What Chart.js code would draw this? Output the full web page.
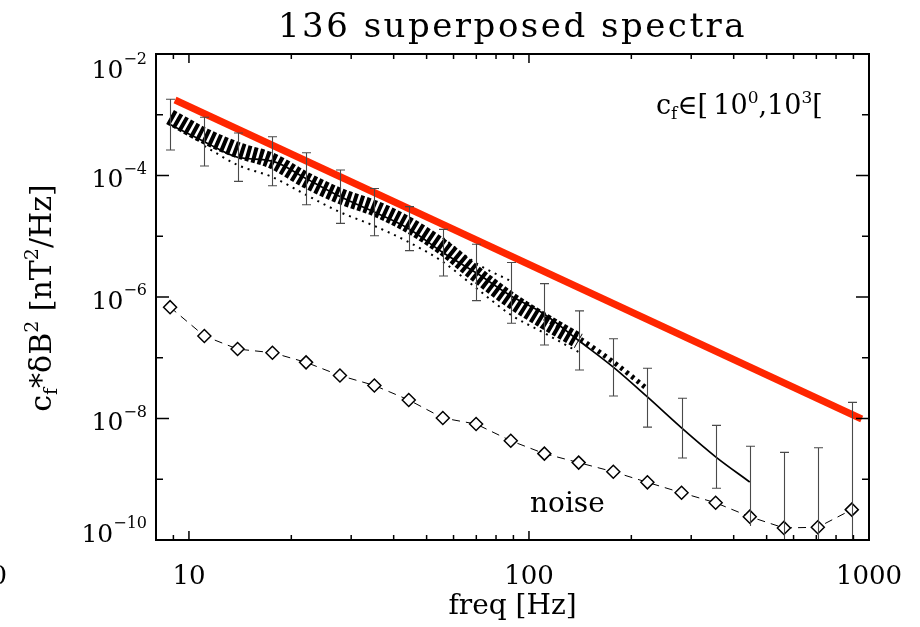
<!DOCTYPE html>
<html>
<head>
<meta charset="utf-8">
<script src="https://cdn.jsdelivr.net/npm/chart.js@4.4.0/dist/chart.umd.min.js"></script>
<style>
  html, body { margin: 0; background: #fff; }
  #wrap { width: 920px; height: 627px; }
</style>
</head>
<body>
<div id="wrap"><canvas id="spectra"></canvas></div>
<script>
// frequency bins (Hz) where error bars / noise diamonds sit
const freq = [8.8, 11.1, 13.9, 17.6, 22.1, 27.8, 35.1, 44.3, 55.8, 69.9, 88.4,
              111, 140, 177, 223, 281, 354, 446, 562, 707, 890];

// mean spectrum (solid line) and its spread
const spectrumMean = [6.9e-4, 3.6e-4, 2.0e-4, 1.72e-4, 8.9e-5, 4.5e-5, 2.5e-5, 1.33e-5, 5.4e-6, 2.5e-6, 1.05e-6,
                      5.2e-7, 1.92e-7, 7.0e-8, 2.26e-8, 7.0e-9, 2.34e-9, 9.0e-10, null, null, null];
const errHigh = [1.8e-3, 9.1e-4, 5.0e-4, 4.35e-4, 2.37e-4, 1.23e-4, 6.1e-5, 3.07e-5, 1.3e-5, 7.4e-6, 3.7e-6,
                 1.66e-6, 5.9e-7, 2.06e-7, 6.7e-8, 2.15e-8, 7.7e-9, 3.5e-9, 2.77e-9, 3.3e-9, 1.84e-8];
const errLow = [2.63e-4, 1.43e-4, 8.0e-5, 6.8e-5, 3.3e-5, 1.63e-5, 1.02e-5, 5.8e-6, 2.22e-6, 8.7e-7, 3.7e-7,
                1.62e-7, 6.3e-8, 2.34e-8, 7.2e-9, 2.24e-9, 7.1e-10, 1.7e-10, 1e-10, 1e-10, 1e-10];

// noise level (diamonds)
const noise = [6.8e-7, 2.28e-7, 1.39e-7, 1.21e-7, 8.4e-8, 5.1e-8, 3.5e-8, 2.02e-8, 1.02e-8, 8.1e-9, 4.3e-9,
               2.64e-9, 1.88e-9, 1.33e-9, 8.9e-10, 6.0e-10, 4.1e-10, 2.42e-10, 1.58e-10, 1.62e-10, 3.16e-10];

// the superposed individual spectra (dense dotted band + stray dotted curves)
const bandCore = [9.2e-4, 4.5e-4, 2.63e-4, 1.73e-4, 8.4e-5, 4.6e-5, 2.9e-5, 1.53e-5, 6.6e-6, 2.39e-6, 8.9e-7,
                  4.0e-7, 1.89e-7, null, null, null, null, null, null, null, null];
const bandLower = [null, 3.06e-4, 1.49e-4, 9.4e-5, 4.8e-5, 2.5e-5, 1.48e-5, 8.0e-6, 3.8e-6, 1.41e-6, 5.1e-7,
                   2.55e-7, 1.24e-7, null, null, null, null, null, null, null, null];
const bandUpper = [null, null, null, null, null, null, null, null, 9.4e-6, 3.6e-6, 1.83e-6,
                   null, null, null, null, null, null, null, null, null, null];
const bandTail = [null, null, null, null, null, null, null, null, null, null, null,
                  4.5e-7, 2.11e-7, 8.5e-8, 3.06e-8, null, null, null, null, null, null];

// red power-law reference line
const fitFreq = [9.1, 952];
const fitValue = [1.75e-3, 9.8e-9];

// axis ticks
const xMajor = [10, 100, 1000];
const xMajorLabels = ['10', '100', '1000'];
const xMinor = [9, 20, 30, 40, 50, 60, 70, 80, 90, 200, 300, 400, 500, 600, 700, 800, 900];
const yLabelExp = [-2, -4, -6, -8, -10];
const yMinorExp = [-3, -5, -7, -9];

const serif = '"DejaVu Serif", serif';

function pts(values, xs = freq) {
  return xs.map((x, i) => ({ x: x, y: values[i] }));
}

// text pieces with their own sizes and vertical offsets (sub/superscripts)
function runWidth(ctx, runs) {
  let w = 0;
  runs.forEach(r => { ctx.font = r.size + 'px ' + serif; w += ctx.measureText(r.t).width; });
  return w;
}
function drawRuns(ctx, runs, x, y) {
  runs.forEach(r => {
    ctx.font = r.size + 'px ' + serif;
    ctx.fillText(r.t, x, y + (r.dy || 0));
    x += ctx.measureText(r.t).width;
  });
}

const idlAxes = {
  id: 'idlAxes',
  beforeDraw(chart) {
    // wider letter spacing for the title, like the original plot
    chart.ctx.letterSpacing = '2.5px';
  },
  beforeDatasetsDraw(chart) {
    chart.ctx.letterSpacing = '0px';
  },
  afterDatasetsDraw(chart) {
    const { ctx, scales: { x, y } } = chart;
    // error bars
    ctx.save();
    ctx.strokeStyle = '#4a4a4a';
    ctx.lineWidth = 1.1;
    freq.forEach((f, i) => {
      const px = Math.round(x.getPixelForValue(f)) + 0.5;
      const top = y.getPixelForValue(errHigh[i]);
      const bot = y.getPixelForValue(errLow[i]);
      ctx.beginPath();
      ctx.moveTo(px, top); ctx.lineTo(px, bot);
      ctx.moveTo(px - 4.5, top); ctx.lineTo(px + 4.5, top);
      if (errLow[i] > 2e-10) { ctx.moveTo(px - 4.5, bot); ctx.lineTo(px + 4.5, bot); }
      ctx.stroke();
    });
    ctx.restore();
  },
  afterDraw(chart) {
    const { ctx, chartArea: a, scales: { x, y } } = chart;
    ctx.save();
    ctx.letterSpacing = '0px';
    ctx.strokeStyle = '#000';
    ctx.fillStyle = '#000';

    // frame
    ctx.lineWidth = 2;
    ctx.strokeRect(a.left, a.top, a.right - a.left, a.bottom - a.top);

    // ticks, pointing inward on all four sides
    ctx.lineWidth = 1.5;
    ctx.beginPath();
    const xt = (v, len) => {
      const px = x.getPixelForValue(v);
      ctx.moveTo(px, a.bottom); ctx.lineTo(px, a.bottom - len);
      ctx.moveTo(px, a.top); ctx.lineTo(px, a.top + len);
    };
    xMajor.forEach(v => xt(v, 9));
    xMinor.forEach(v => xt(v, 5));
    const yt = (e, len) => {
      const py = y.getPixelForValue(Math.pow(10, e));
      ctx.moveTo(a.left, py); ctx.lineTo(a.left + len, py);
      ctx.moveTo(a.right, py); ctx.lineTo(a.right - len, py);
    };
    yLabelExp.forEach(e => yt(e, 13));
    yMinorExp.forEach(e => yt(e, 7));
    ctx.stroke();

    ctx.textBaseline = 'alphabetic';
    ctx.textAlign = 'left';

    // y tick labels 10^n
    yLabelExp.forEach(e => {
      const py = y.getPixelForValue(Math.pow(10, e));
      const center = Math.min(Math.max(py + 2.5, 68.5), 532.5);
      const base = center + 9;
      const runs = [{ t: '10', size: 25 }, { t: '\u2212' + Math.abs(e), size: 16, dy: -13.5 }];
      drawRuns(ctx, runs, 147 - runWidth(ctx, runs), base);
    });

    // x tick labels
    ctx.font = '26px ' + serif;
    ctx.textAlign = 'center';
    xMajor.forEach((v, i) => ctx.fillText(xMajorLabels[i], x.getPixelForValue(v), 583.5));
    // label of the neighbouring panel, cut at the left edge
    ctx.textAlign = 'right';
    ctx.fillText('1000', 7, 583.5);

    // x axis title
    ctx.font = '28px ' + serif;
    ctx.textAlign = 'center';
    ctx.fillText('freq [Hz]', (a.left + a.right) / 2, 614);
    ctx.textAlign = 'left';

    // y axis title (rotated)
    const yTitle = [
      { t: 'c', size: 30 }, { t: 'f', size: 19, dy: 6 }, { t: '*\u03b4B', size: 30 }, { t: '2', size: 19, dy: -13 },
      { t: ' [nT', size: 30 }, { t: '2', size: 19, dy: -13 }, { t: '/Hz]', size: 30 }
    ];
    ctx.save();
    ctx.translate(51, 298);
    ctx.rotate(-Math.PI / 2);
    drawRuns(ctx, yTitle, -runWidth(ctx, yTitle) / 2, 0);
    ctx.restore();

    // range annotation
    drawRuns(ctx, [
      { t: 'c', size: 27 }, { t: 'f', size: 17, dy: 5 }, { t: '\u2208[\u2009', size: 27 },
      { t: '10', size: 27 }, { t: '0', size: 17, dy: -11 }, { t: ',', size: 27 },
      { t: '10', size: 27 }, { t: '3', size: 17, dy: -11 }, { t: '[', size: 27 }
    ], 656, 114);

    // noise label
    ctx.font = '28px ' + serif;
    ctx.fillText('noise', 530, 512);
    ctx.restore();
  }
};

new Chart(document.getElementById('spectra'), {
  type: 'line',
  data: {
    datasets: [
      {
        label: 'power law',
        data: pts(fitValue, fitFreq),
        borderColor: 'rgb(255,38,0)',
        borderWidth: 7,
        borderCapStyle: 'butt',
        pointRadius: 0
      },
      {
        label: 'mean spectrum',
        data: pts(spectrumMean),
        borderColor: '#000',
        borderWidth: 1.7,
        cubicInterpolationMode: 'monotone',
        pointRadius: 0
      },
      {
        label: 'spectra',
        data: pts(bandCore),
        borderColor: '#000',
        borderWidth: 16,
        borderDash: [4, 2.5],
        borderCapStyle: 'butt',
        cubicInterpolationMode: 'monotone',
        pointRadius: 0
      },
      {
        label: 'spectra lower',
        data: pts(bandLower),
        borderColor: '#000',
        borderWidth: 2,
        borderDash: [2, 5],
        cubicInterpolationMode: 'monotone',
        pointRadius: 0
      },
      {
        label: 'spectra upper',
        data: pts(bandUpper),
        borderColor: '#000',
        borderWidth: 2,
        borderDash: [2, 5],
        cubicInterpolationMode: 'monotone',
        pointRadius: 0
      },
      {
        label: 'spectra tail',
        data: pts(bandTail),
        borderColor: '#000',
        borderWidth: 5,
        borderDash: [3, 4],
        borderCapStyle: 'butt',
        cubicInterpolationMode: 'monotone',
        pointRadius: 0
      },
      {
        label: 'noise',
        data: pts(noise),
        borderColor: '#000',
        borderWidth: 1,
        borderDash: [8, 6],
        pointStyle: 'rectRot',
        pointRadius: 6.5,
        pointBorderWidth: 1.5,
        pointBackgroundColor: '#fff',
        pointBorderColor: '#000'
      }
    ]
  },
  options: {
    responsive: true,
    maintainAspectRatio: false,
    animation: false,
    layout: { padding: { left: 156, right: 51, top: 0, bottom: 87 } },
    plugins: {
      legend: { display: false },
      tooltip: { enabled: false },
      title: {
        display: true,
        text: '136 superposed spectra',
        color: '#000',
        font: { family: serif, size: 34, weight: 'normal' },
        padding: { top: 8, bottom: 5.2 }
      }
    },
    scales: {
      x: { type: 'logarithmic', min: 8, max: 1000, display: false },
      y: { type: 'logarithmic', min: 1e-10, max: 1e-2, display: false }
    }
  },
  plugins: [idlAxes]
});
</script>
</body>
</html>
